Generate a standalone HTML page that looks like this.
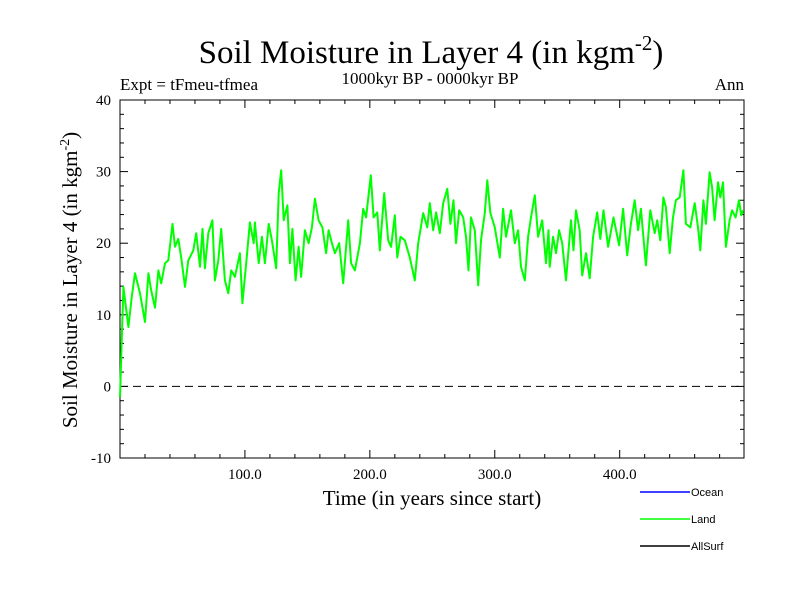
<!DOCTYPE html>
<html><head><meta charset="utf-8"><style>
body{margin:0;background:#fff}
svg{display:block}
text{font-family:"Liberation Serif",serif;fill:#000}
</style></head><body>
<svg id="chart" width="800" height="600">
<text x="431" y="63" text-anchor="middle" font-size="33">Soil Moisture in Layer 4 (in kgm<tspan dy="-13" font-size="21">-2</tspan><tspan dy="13">)</tspan></text>
<text x="120" y="90" font-size="17">Expt = tFmeu-tfmea</text>
<text x="430" y="84" text-anchor="middle" font-size="17">1000kyr BP - 0000kyr BP</text>
<text x="744" y="90" text-anchor="end" font-size="17">Ann</text>
<text transform="translate(77,280) rotate(-90)" text-anchor="middle" font-size="21">Soil Moisture in Layer 4 (in kgm<tspan dy="-8" font-size="14">-2</tspan><tspan dy="8">)</tspan></text>
<text x="432" y="505" text-anchor="middle" font-size="21">Time (in years since start)</text>
<g id="axes"></g>
<g id="series"></g>
<g>
<line x1="640" y1="492" x2="690" y2="492" stroke="#0000ff" stroke-width="1.5"/>
<text x="691" y="496" font-size="11" style="font-family:'Liberation Sans',sans-serif">Ocean</text>
<line x1="640" y1="519" x2="690" y2="519" stroke="#00ff00" stroke-width="1.5"/>
<text x="691" y="523" font-size="11" style="font-family:'Liberation Sans',sans-serif">Land</text>
<line x1="640" y1="546" x2="690" y2="546" stroke="#000" stroke-width="1.5"/>
<text x="691" y="550" font-size="11" style="font-family:'Liberation Sans',sans-serif">AllSurf</text>
</g>
</svg>
<script>
const years=[0,2.7,6.7,9.3,12,16,20,22.7,25,28,30.7,33,36,38.7,42,44,46.7,49,52,54.7,58.7,61,64,66,68,70.7,74,76,78.7,81,84,86.7,89,92,96,98,101,104,107,108,111,113.6,116,119,121.6,125,127,129,131,134,136,138,140.6,143,145,148,151,153.6,156,159,162,165,167,169.6,172,175.5,178.7,182.7,185,188,192,194.7,197,200.8,203,206,208,211.5,214.7,217,220,222,224.5,228,232,236,238.7,242.7,246,248,250.7,253,256,258.7,262,264.5,267,269,271.5,274.7,277,279,281,284,286.7,289,292,294,296.5,300,304,306.7,309,313,316,318.7,321,324,326.7,329,332,334.7,338,341,343,344,346.7,349,351.5,354,357,361,363,365,368,370,373,376,378.7,382,384.5,387,390.7,395,399.5,402.7,406,409,412,414.7,417,421,424.5,428,430,432.5,435,437,440,442.7,445,448,451,453,456.5,460,462.7,464.5,467,469,472,474,476,478.7,480.5,482.7,485,488,490,492.8,495.5,497.3,498.7];
const landValues=[-1.5,13.9,8.3,12.3,15.8,13,9,15.8,13.4,11,16.2,14.4,17.2,17.6,22.7,19.5,20.6,18,13.9,17.6,19,21.4,16.7,22,16.5,21.4,23.2,14.8,17.6,22,14.8,13,16.2,15.3,18.6,11.6,17.2,22.9,20,22.9,17.2,20.9,17.2,22.7,20.4,16.5,27,30.2,23.2,25.3,17.2,22,14.8,19.5,15.3,21.8,20,22.2,26.2,23.2,22.2,18.6,21.8,20,18.6,20,14.4,23.2,17.2,16.2,20,24.8,23.6,29.5,23.6,24.3,19,27,20.4,19.5,23.9,18,20.9,20.4,18,14.8,20,24.2,22.2,25.6,21.8,24.3,21.4,25.6,27.6,22.7,26,20,24.6,23.6,20.9,16.2,23.6,21.8,14.1,20.4,24.2,28.8,24.2,22.2,18,24.8,20.9,24.6,20,21.8,16.7,14.8,20.9,23.6,26.7,20.9,23.2,17.2,21.8,16.7,20.9,18.6,21.8,20,14.8,23.2,19,24.6,21.8,15.5,18.6,15.1,20.9,24.3,20.6,24.6,19.5,23.6,19.7,24.8,18.3,22.7,26,21.8,24.8,16.9,24.6,21.4,23.2,20.4,26.4,25,18.6,23.6,26,26.4,30.2,22.7,22.2,25.6,22.2,19,26,22.7,29.9,27.8,23.2,28.5,26.4,28.5,19.5,23.2,24.6,23.6,26,23.9,24.6];
const yTickLabels=["-10","0","10","20","30","40"];
const yTickValues=[-10,0,10,20,30,40];
const xTickLabels=["100.0","200.0","300.0","400.0"];
const xTickValues=[100,200,300,400];

const L=120,R=744,T=100,B=458;
const xMin=0,xMax=499.5,yMin=-10,yMax=40;
const sx=v=>L+(v-xMin)/(xMax-xMin)*(R-L);
const sy=v=>B-(v-yMin)/(yMax-yMin)*(B-T);
const NS="http://www.w3.org/2000/svg";
function mk(tag,attrs,parent){const e=document.createElementNS(NS,tag);for(const k in attrs)e.setAttribute(k,attrs[k]);parent.appendChild(e);return e;}
const axes=document.getElementById('axes');
const frame=mk('rect',{x:L,y:T,width:R-L,height:B-T,fill:'none',stroke:'#000','stroke-width':1},axes);


const zl=mk('line',{x1:L,x2:R,y1:sy(0),y2:sy(0),stroke:'#000','stroke-width':1,'stroke-dasharray':'8,5'},axes);


for(let v=yMin;v<=yMax;v+=2){
  const len=(v%10===0)?8:4;const y=sy(v);
  const t1=mk('line',{x1:L,x2:L+len,y1:y,y2:y,stroke:'#000'},axes);
  
  
  const t2=mk('line',{x1:R,x2:R-len,y1:y,y2:y,stroke:'#000'},axes);
  
  
}
yTickValues.forEach((v,i)=>{
  const t=mk('text',{x:111,y:sy(v)+5,'text-anchor':'end','font-size':15},axes);t.textContent=yTickLabels[i];
  
  
});
for(let v=20;v<xMax;v+=20){
  const len=(v%100===0)?8:4;const x=sx(v);
  const t1=mk('line',{x1:x,x2:x,y1:B,y2:B-len,stroke:'#000'},axes);
  
  
  const t2=mk('line',{x1:x,x2:x,y1:T,y2:T+len,stroke:'#000'},axes);
  
  
}
xTickValues.forEach((v,i)=>{
  const t=mk('text',{x:sx(v),y:479,'text-anchor':'middle','font-size':15},axes);t.textContent=xTickLabels[i];
  
  
});
const pts=years.map((yr,i)=>sx(yr).toFixed(1)+','+sy(landValues[i]).toFixed(1)).join(' ');
const line=mk('polyline',{points:pts,fill:'none',stroke:'#00ff00','stroke-width':2,'stroke-linejoin':'round'},document.getElementById('series'));


</script>
</body></html>
